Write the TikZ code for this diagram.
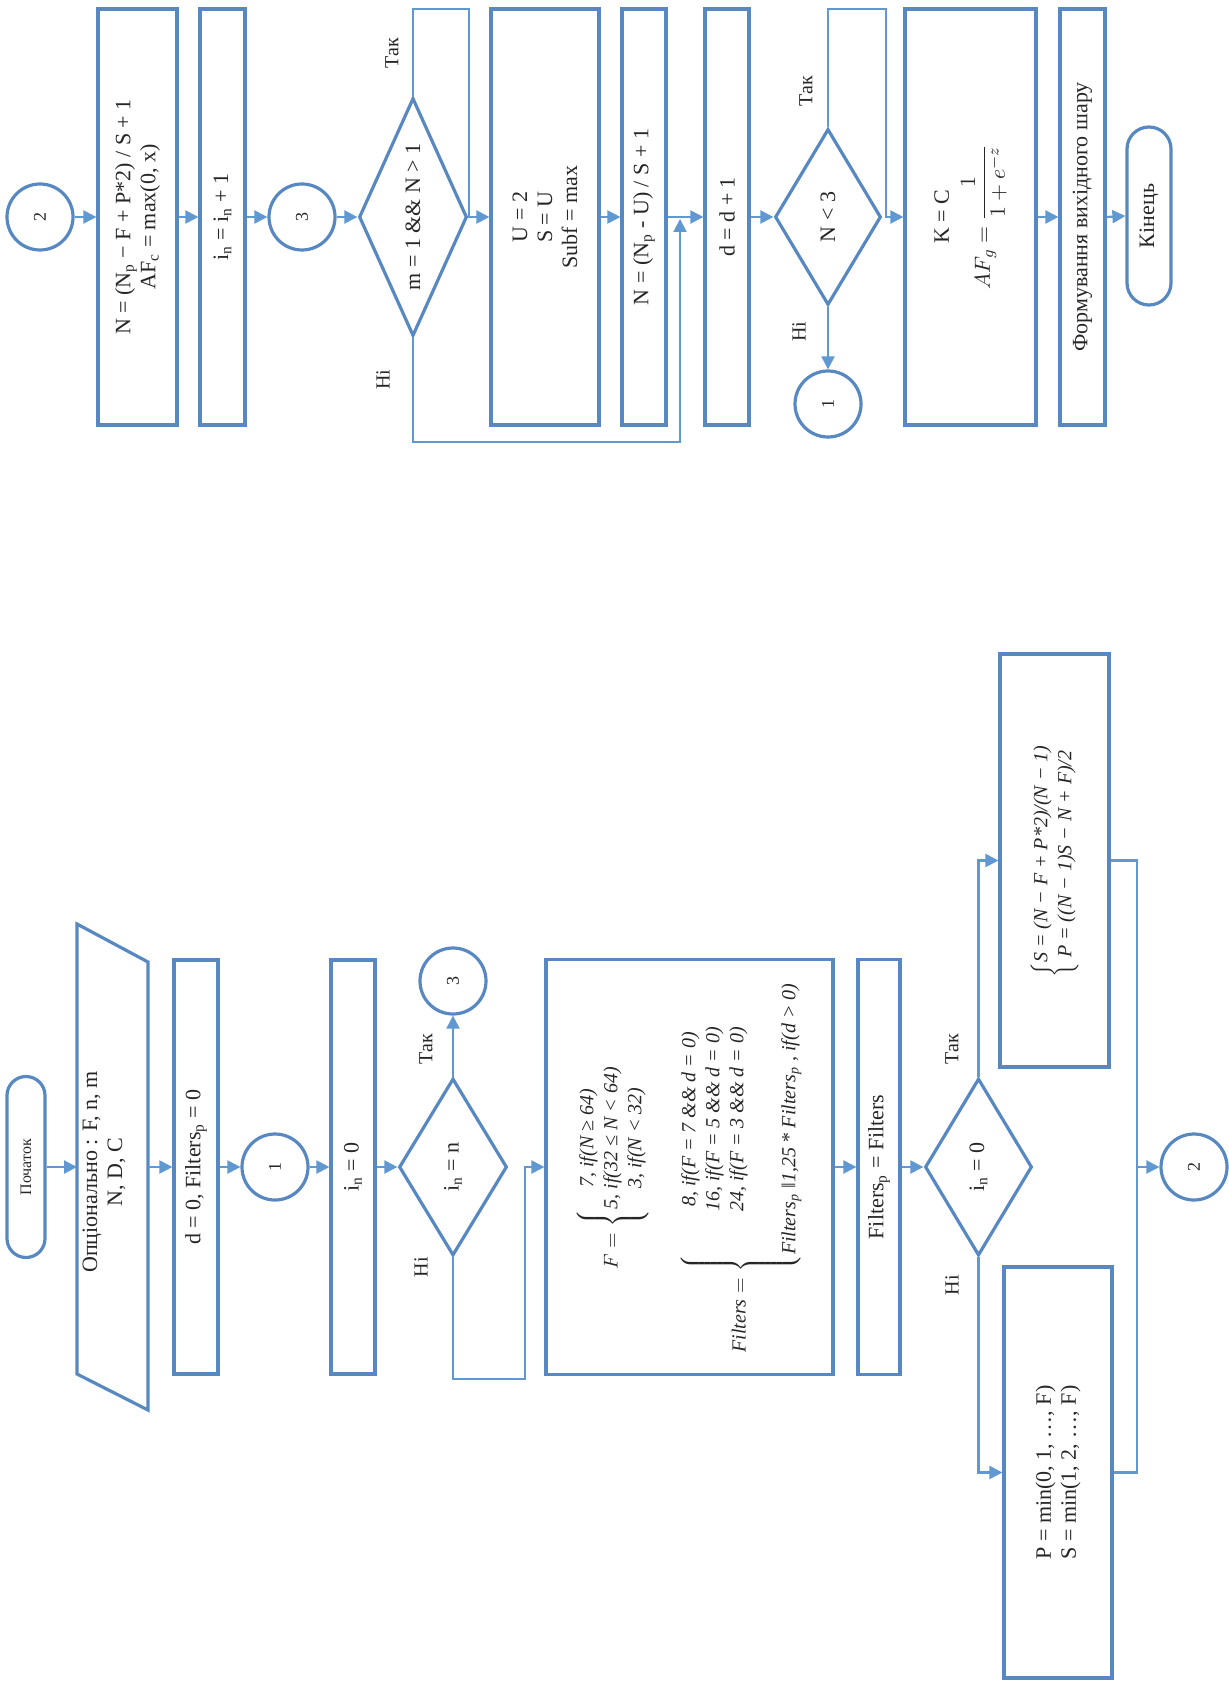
\documentclass[tikz,border=0pt]{standalone}
\usepackage{fontspec}
\setmainfont{Liberation Serif}
\usetikzlibrary{shapes.geometric,arrows.meta}
\definecolor{boxc}{RGB}{88,136,194}
\definecolor{linec}{RGB}{96,152,210}
\begin{document}
\begin{tikzpicture}[x=0.5pt,y=-0.5pt,
  base/.style={rotate=90,inner sep=1pt,align=center,font=\fontsize{11}{12.5}\selectfont,text=black!85},
  pbox/.style={base,draw=boxc,line width=1.6pt},
  dmd/.style={base,draw=boxc,line width=1.6pt,diamond,shape aspect=2,inner sep=0pt},
  conn/.style={base,draw=boxc,line width=1.6pt,circle,minimum size=33pt,font=\fontsize{9}{10}\selectfont},
  term/.style={base,draw=boxc,line width=1.6pt},
  lbl/.style={rotate=90,font=\fontsize{10}{11}\selectfont,text=black!85,inner sep=0pt},
  ln/.style={draw=linec,line width=1.1pt},
  arr/.style={ln,-{Triangle[length=6.5pt,width=6.5pt]}}
]
\useasboundingbox (0,0) rectangle (1229,1684);

%% ---------------- upper half ----------------
\node[conn] (c2t) at (40,217) {2};
\node[pbox,minimum width=208pt,minimum height=39.5pt] (bA) at (137.5,217)
  {N = (N\textsubscript{p} − F + P*2) / S + 1\\AF\textsubscript{c} = max(0, x)};
\node[pbox,minimum width=208pt,minimum height=22.5pt] (bB) at (222.5,217)
  {i\textsubscript{n} = i\textsubscript{n} + 1};
\node[conn] (c3t) at (302,217) {3};
\node[dmd,minimum width=119pt,minimum height=54pt] (dm1) at (413,217) {m = 1 \&\& N > 1};
\node[pbox,minimum width=208pt,minimum height=54pt] (bU) at (545,217)
  {U = 2\\S = U\\Subf = max};
\node[pbox,minimum width=208pt,minimum height=22pt] (bD) at (644,217)
  {N = (N\textsubscript{p} - U) / S + 1};
\node[pbox,minimum width=208pt,minimum height=22pt] (bE) at (727,217) {d = d + 1};
\node[dmd,minimum width=88pt,minimum height=53pt] (dm2) at (828,217) {N < 3};
\node[conn] (c1t) at (828,404) {1};
\node[pbox,minimum width=208pt,minimum height=65.5pt] (bF) at (970.5,217)
  {K = C\\[5pt] $\displaystyle AF_g=\frac{1}{1+e^{-z}}$};
\node[pbox,minimum width=208pt,minimum height=22.5pt] (bG) at (1082.5,217)
  {Формування вихідного шару};
\node[term,minimum width=89pt,minimum height=22pt,rounded corners=11pt] (tEnd) at (1149,216) {Кінець};

\node[lbl] (lt1) at (392,53) {Так};
\node[lbl] (ln1) at (383,380) {Ні};
\node[lbl] (lt2) at (806,91) {Так};
\node[lbl] (ln2) at (799,332) {Ні};

\coordinate (k1) at (469,9);
\coordinate (n1) at (680,442);
\coordinate (j1) at (680,219);
\coordinate (k2) at (886,9);

\draw[arr] (c2t.south) -- (bA.north);
\draw[arr] (bA.south) -- (bB.north);
\draw[arr] (bB.south) -- (c3t.north);
\draw[arr] (c3t.south) -- (dm1.north);
\draw[arr] (dm1.east) |- (k1) |- (bU.north);
\draw[arr] (bU.south) -- (bD.north);
\draw[arr] (bD.south) -- (bE.north);
\draw[arr] (dm1.west) |- (n1) -- (j1);
\draw[arr] (bE.south) -- (dm2.north);
\draw[arr] (dm2.east) |- (k2) |- (bF.north);
\draw[arr] (dm2.west) -- (c1t.east);
\draw[arr] (bF.south) -- (bG.north);
\draw[arr] (bG.south) -- (tEnd.north);

%% ---------------- lower half ----------------
\node[term,minimum width=90.5pt,minimum height=19pt,rounded corners=9.5pt,font=\fontsize{8}{9}\selectfont] (tStart) at (26,1167) {Початок};
\draw[draw=boxc,line width=1.6pt] (77,924) -- (148,962) -- (148,1410) -- (77,1374) -- cycle;
\node[base] (inp) at (104,1172) {Опціонально : F, n, m\\N, D, C};
\coordinate (inpL) at (77,1167);
\coordinate (inpR) at (148,1167);
\node[pbox,minimum width=207pt,minimum height=22pt] (bd0) at (196,1167)
  {d = 0, Filters\textsubscript{p} = 0};
\node[conn] (c1b) at (275,1167) {1};
\node[pbox,minimum width=207pt,minimum height=22pt] (bi0) at (353,1167)
  {i\textsubscript{n} = 0};
\node[dmd,minimum width=88.5pt,minimum height=54pt] (dm3) at (453,1167) {i\textsubscript{n} = n};
\node[conn] (c3b) at (453,981) {3};
\node[pbox,minimum width=207.5pt,minimum height=143.5pt,font=\fontsize{10}{12}\selectfont] (bF2) at (689.5,1167)
  {$F=\left\{\begin{tabular}{@{}c@{}}\itshape 7, if(N ≥ 64)\\ \itshape 5, if(32 ≤ N < 64)\\ \itshape 3, if(N < 32)\end{tabular}\right.$\\[14pt]
   $\textit{Filters}=\left\{\begin{tabular}{@{}c@{}}\itshape 8, if(F = 7 \&\& d = 0)\\ \itshape 16, if(F = 5 \&\& d = 0)\\ \itshape 24, if(F = 3 \&\& d = 0)\\[14pt] \itshape Filters\textsubscript{p} ‖1,25 * Filters\textsubscript{p} , if(d > 0)\end{tabular}\right.$};
\node[pbox,minimum width=207.5pt,minimum height=21pt] (bFp) at (879,1167)
  {Filters\textsubscript{p} = Filters};
\node[dmd,minimum width=88.5pt,minimum height=53.5pt] (dm4) at (978.5,1167) {i\textsubscript{n} = 0};
\node[pbox,minimum width=206.5pt,minimum height=54.5pt,font=\fontsize{10}{12}\selectfont] (bSP) at (1054.5,860.5)
  {$\left\{\begin{tabular}{@{}c@{}}\itshape S = (N − F + P*2)/(N − 1)\\ \itshape P = ((N − 1)S − N + F)/2\end{tabular}\right.$};
\node[pbox,minimum width=205.5pt,minimum height=54pt] (bPS) at (1058,1472.5)
  {P = min(0, 1, …, F)\\S = min(1, 2, …, F)};
\node[conn] (c2b) at (1194,1167) {2};

\node[lbl] (lt3) at (426,1049) {Так};
\node[lbl] (ln3) at (421,1267) {Ні};
\node[lbl] (lt4) at (952,1049) {Так};
\node[lbl] (ln4) at (952,1285) {Ні};

\coordinate (n3) at (525,1379);
\coordinate (mg) at (1137,1167);

\draw[arr] (tStart.south) -- (inpL);
\draw[arr] (inpR) -- (bd0.north);
\draw[arr] (bd0.south) -- (c1b.north);
\draw[arr] (c1b.south) -- (bi0.north);
\draw[arr] (bi0.south) -- (dm3.north);
\draw[arr] (dm3.east) -- (c3b.west);
\draw[arr] (dm3.west) |- (n3) |- (bF2.north);
\draw[arr] (bF2.south) -- (bFp.north);
\draw[arr] (bFp.south) -- (dm4.north);
\draw[arr] (dm4.east) |- (bSP.north);
\draw[arr] (dm4.west) |- (bPS.north);
\draw[ln] (bSP.south) -| (mg);
\draw[ln] (bPS.south) -| (mg);
\draw[arr] (mg) -- (c2b.north);
\end{tikzpicture}
\end{document}
